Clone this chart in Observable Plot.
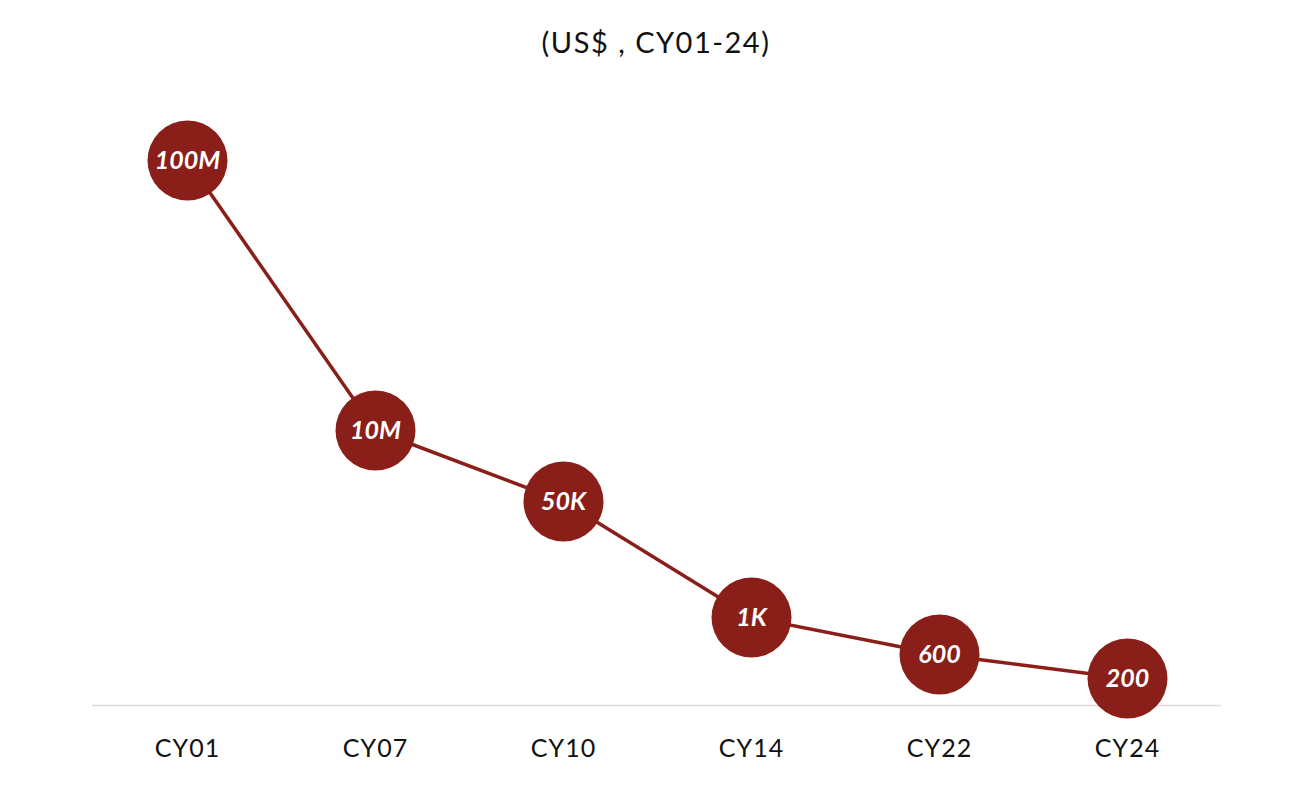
<!DOCTYPE html>
<html>
<head>
<meta charset="utf-8">
<script src="https://cdn.jsdelivr.net/npm/d3@7"></script>
<script src="https://cdn.jsdelivr.net/npm/@observablehq/plot@0.6"></script>
<style>
  body { margin: 0; background: #fff; font-family: Lato, "Open Sans", sans-serif; }
  #title { height: 80px; line-height: 84px; text-align: center; font-size: 29px; letter-spacing: 1.5px; color: #111; padding-left: 12px; box-sizing: border-box; }
  #chart g[aria-label="x-axis tick label"] text { letter-spacing: 1px; }
</style>
</head>
<body>
<div id="title">(US$ , CY01-24)</div>
<div id="chart"></div>
<script>
// años y etiquetas
const years = ['CY01', 'CY07', 'CY10', 'CY14', 'CY22', 'CY24']
const labels = ['100M', '10M', '50K', '1K', '600', '200']
// altura visual de cada punto (escala ilustrativa, no proporcional)
const heights = [545, 275, 204, 88, 51, 27]

const data = years.map((y, i) => ({year: y, label: labels[i], h: heights[i]}))
const red = '#8a1f1a'

let chart = Plot.plot({
  width: 1300,
  height: 732,
  marginLeft: 92,
  marginRight: 79,
  marginTop: 25,
  marginBottom: 107,
  style: {fontFamily: 'Lato, "Open Sans", sans-serif', color: '#111'},
  x: {type: 'point', domain: years, padding: 0.5},
  y: {domain: [0, 600], axis: null},
  marks: [
    Plot.axisX({label: null, tickSize: 0, tickPadding: 34, fontSize: 25, fill: '#111'}),
    Plot.ruleY([0], {stroke: '#dcdcdc', strokeWidth: 1.5}),
    Plot.line(data, {x: 'year', y: 'h', stroke: red, strokeWidth: 3.5}),
    Plot.dot(data, {x: 'year', y: 'h', r: 40, fill: red}),
    Plot.text(data, {x: 'year', y: 'h', text: 'label', fill: 'white', fontSize: 25, fontWeight: 'bold', fontStyle: 'italic'})
  ]
})
d3.select('#chart').append(() => chart)
</script>
</body>
</html>
